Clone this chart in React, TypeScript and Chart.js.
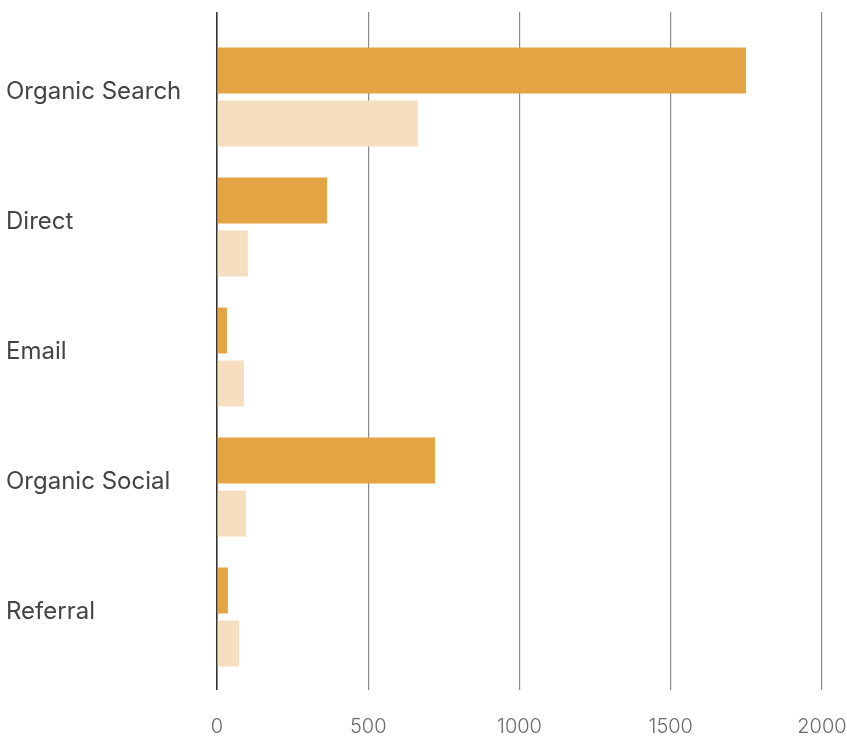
import React, { useEffect, useRef } from "react";
import { Chart, registerables } from "chart.js";

Chart.register(...registerables);

const categories = ["Organic Search", "Direct", "Email", "Organic Social", "Referral"];
const seriesA = [1749, 364, 33, 721, 36];
const seriesB = [664, 102, 89, 96, 73];
const xTicks = [0, 500, 1000, 1500, 2000];

const gridColor = (ctx: any) => (ctx.tick && ctx.tick.value === 0 ? "#333333" : "#8a8a8a");
const gridWidth = (ctx: any) => (ctx.tick && ctx.tick.value === 0 ? 1.6 : 1.2);

export default function App() {
  const ref = useRef<HTMLCanvasElement | null>(null);
  useEffect(() => {
    document.body.style.margin = "0";
    const chart = new Chart(ref.current as HTMLCanvasElement, {
      type: "bar",
      data: {
        labels: categories.map((c) => [c, ""]),
        datasets: [
          { data: seriesA, backgroundColor: "#E3A443", categoryPercentage: 0.815, barPercentage: 0.868 },
          { data: seriesB, backgroundColor: "#F5DFC0", categoryPercentage: 0.815, barPercentage: 0.868 },
        ],
      },
      options: {
        indexAxis: "y",
        animation: false,
        responsive: false,
        layout: { padding: { left: 6, top: 12, right: 25, bottom: 0 } },
        plugins: { legend: { display: false }, tooltip: { enabled: false } },
        scales: {
          x: {
            position: "bottom",
            min: xTicks[0],
            max: xTicks[xTicks.length - 1],
            afterBuildTicks: (s: any) => { s.ticks = xTicks.map((v) => ({ value: v })); },
            afterFit: (s: any) => { s.height = 54; s.paddingRight = 0; s.paddingLeft = 0; },
            ticks: {
              color: "#6b6b6b",
              font: { family: "Inter", size: 20, weight: "300" },
              padding: 25,
              callback: (v: any) => String(v),
            },
            grid: { color: gridColor, lineWidth: gridWidth, tickLength: 8, drawTicks: true },
            border: { display: false },
          },
          x2: {
            position: "top",
            min: xTicks[0],
            max: xTicks[xTicks.length - 1],
            afterBuildTicks: (s: any) => { s.ticks = xTicks.map((v) => ({ value: v })); },
            afterFit: (s: any) => { s.height = 20; s.paddingRight = 0; s.paddingLeft = 0; },
            ticks: { display: false },
            grid: { color: gridColor, lineWidth: gridWidth, tickLength: 20, drawTicks: true, drawOnChartArea: false },
            border: { display: false },
          },
          y: {
            ticks: {
              color: "#444444",
              font: { family: "Inter", size: 24, lineHeight: 0.42 },
              crossAlign: "far",
              padding: 10,
            },
            grid: { display: false },
            border: { display: false },
            afterFit: (s: any) => { s.width = 211; },
          },
        },
      },
    } as any);
    return () => chart.destroy();
  }, []);
  return <canvas ref={ref} width={847} height={736} style={{ display: "block" }} />;
}
